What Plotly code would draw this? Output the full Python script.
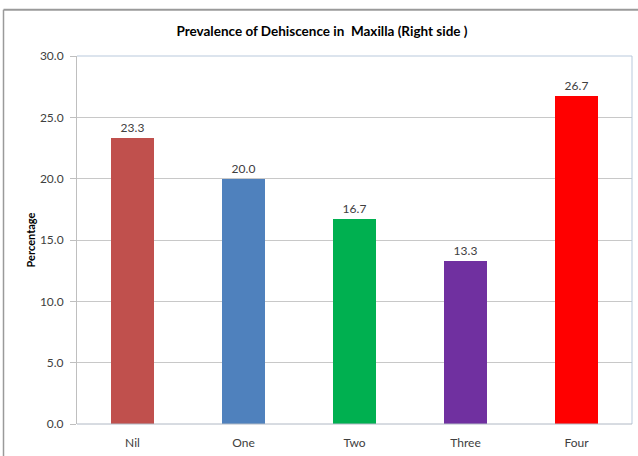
import plotly.graph_objects as go

categories = ["Nil", "One", "Two", "Three", "Four"]
values = [23.3, 20.0, 16.7, 13.3, 26.7]
colors = ["#C0504D", "#4F81BD", "#00B050", "#7030A0", "#FF0000"]
y_ticks = [0, 5, 10, 15, 20, 25, 30]
y_tick_labels = ["0.0", "5.0", "10.0", "15.0", "20.0", "25.0", "30.0"]

W, H = 638, 456
L, R, T, B = 77, 6, 56, 30
pw, ph = W - L - R, H - T - B

def px_x(px):
    return (px - L) / pw

def px_y(py):
    return (H - B - py) / ph

font_family = "Lato, 'Open Sans', Arial, sans-serif"

fig = go.Figure()
fig.add_trace(go.Bar(
    x=categories,
    y=values,
    marker=dict(color=colors, line=dict(width=0)),
    width=0.38,
    text=[f"{v:.1f}" for v in values],
    textposition="outside",
    textfont=dict(size=12, color="#404040", family=font_family),
    cliponaxis=False,
))

fig.update_layout(
    width=W, height=H,
    margin=dict(l=L, r=R, t=T, b=B),
    paper_bgcolor="white",
    plot_bgcolor="white",
    showlegend=False,
    title=dict(
        text="<b>Prevalence of Dehiscence in  Maxilla (Right side )</b>",
        x=322 / W, xanchor="center",
        y=1 - 31 / H, yanchor="middle",
        font=dict(size=13.5, color="#000000", family=font_family),
    ),
    xaxis=dict(
        showgrid=False,
        showline=False,
        ticks="",
        tickfont=dict(size=12, color="#404040", family=font_family),
        ticklabelstandoff=10,
    ),
    yaxis=dict(
        range=[0, 30],
        tickvals=y_ticks,
        ticktext=y_tick_labels,
        showgrid=True,
        gridcolor="#c8c8c8",
        gridwidth=1,
        zeroline=False,
        showline=True,
        linecolor="#bfbfbf",
        linewidth=1,
        ticks="outside",
        ticklen=6,
        tickcolor="#bfbfbf",
        ticklabelstandoff=4,
        tickfont=dict(size=12, color="#404040", family=font_family),
        title=dict(
            text="<b>Percentage</b>",
            font=dict(size=11, color="#000000", family=font_family),
            standoff=2,
        ),
    ),
    bargap=0.0,
)

# plot-area frame (top, right, bottom)
fig.add_shape(type="line", xref="paper", yref="paper", x0=0, x1=1, y0=1, y1=1,
              line=dict(color="#b9c9dc", width=1), layer="above")
fig.add_shape(type="line", xref="paper", yref="paper", x0=1, x1=1, y0=0, y1=1,
              line=dict(color="#b9c9dc", width=1), layer="above")
fig.add_shape(type="line", xref="paper", yref="paper", x0=0, x1=1, y0=0, y1=0,
              line=dict(color="#b0b8c4", width=1), layer="above")

# outer chart border (top and left edges)
fig.add_shape(type="line", xref="paper", yref="paper",
              x0=px_x(3.5), x1=px_x(W + 5), y0=px_y(9.5), y1=px_y(9.5),
              line=dict(color="#9a9a9a", width=2))
fig.add_shape(type="line", xref="paper", yref="paper",
              x0=px_x(3.5), x1=px_x(3.5), y0=px_y(9.5), y1=px_y(H + 5),
              line=dict(color="#9a9a9a", width=1.5))

fig.write_html("out.html")
